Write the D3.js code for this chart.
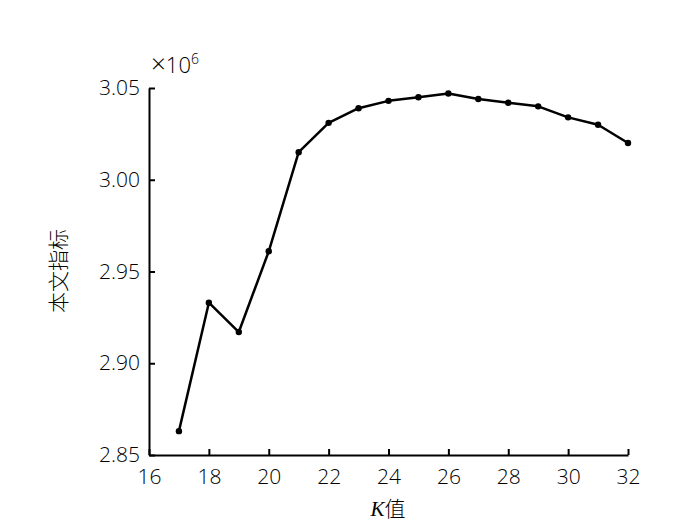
<!DOCTYPE html>
<html lang="zh">
  <head>
    <meta charset="utf-8" />
    <title>K值与本文指标</title>
    <script src="https://d3js.org/d3.v7.min.js"></script>
    <style>
      body { margin: 0; background: #fff; }
      .tick text { font-family: "Open Sans", "DejaVu Sans", sans-serif; font-size: 21px; font-weight: 300; fill: #000; }
    </style>
  </head>
  <body>
    <svg id="chart" width="700" height="525"></svg>
    <script>
      // K values and metric (x 10^6)
      const kValues = [17, 18, 19, 20, 21, 22, 23, 24, 25, 26, 27, 28, 29, 30, 31, 32];
      const metric = [2.863, 2.933, 2.917, 2.961, 3.015, 3.031, 3.039, 3.043, 3.045, 3.047,
                      3.044, 3.042, 3.040, 3.034, 3.030, 3.020];
      const xTicks = [16, 18, 20, 22, 24, 26, 28, 30, 32];
      const yTicks = [2.85, 2.90, 2.95, 3.00, 3.05];

      const svg = d3.select("#chart");
      const mLeft = 149, mRight = 628, mTop = 88, mBottom = 455;

      const x = d3.scaleLinear().domain([16, 32]).range([mLeft, mRight]);
      const y = d3.scaleLinear().domain([2.85, 3.05]).range([mBottom, mTop]);

      // x axis, ticks pointing inward
      const gx = svg.append("g")
        .attr("transform", `translate(0,${mBottom})`)
        .call(d3.axisBottom(x).tickValues(xTicks).tickSizeInner(-6).tickSizeOuter(0).tickPadding(11));
      gx.selectAll(".tick text").attr("dy", "0.85em");

      // y axis, ticks pointing inward
      const gy = svg.append("g")
        .attr("transform", `translate(${mLeft},0)`)
        .call(d3.axisLeft(y).tickValues(yTicks).tickFormat(d3.format(".2f"))
          .tickSizeInner(-6).tickSizeOuter(0).tickPadding(9));

      svg.selectAll(".domain, .tick line").attr("stroke", "#000").attr("stroke-width", 2);

      // multiplier
      const mult = svg.append("text")
        .attr("x", 151).attr("y", 73)
        .style("font-family", "'Open Sans', 'DejaVu Sans', sans-serif")
        .style("font-size", "22px").style("font-weight", 300).attr("fill", "#000");
      mult.append("tspan").style("font-size", "26px").text("×");
      mult.append("tspan").text("10");
      mult.append("tspan").attr("dy", -9).style("font-size", "14px").text("6");

      // axis titles (group opacity keeps the rotated text greyscale)
      svg.append("g")
        .attr("opacity", 0.99)
        .append("text")
        .attr("transform", "translate(66,271) rotate(-90)")
        .attr("text-anchor", "middle")
        .style("font-family", "'Noto Sans CJK SC', sans-serif")
        .style("font-size", "21px").style("font-weight", 300).attr("fill", "#000")
        .text("本文指标");

      const xt = svg.append("text")
        .attr("x", 388).attr("y", 516)
        .attr("text-anchor", "middle").attr("fill", "#000")
        .style("font-size", "21px");
      xt.append("tspan").style("font-family", "'Liberation Serif', serif").style("font-style", "italic").text("K");
      xt.append("tspan").style("font-family", "'Noto Sans CJK SC', sans-serif").style("font-weight", 300).text("值");

      // line
      const pts = kValues.map((k, i) => [k, metric[i]]);
      svg.append("path")
        .datum(pts)
        .attr("fill", "none")
        .attr("stroke", "#000")
        .attr("stroke-width", 2.5)
        .attr("stroke-linejoin", "round")
        .attr("d", d3.line().x(d => x(d[0])).y(d => y(d[1])));

      svg.selectAll("circle.pt")
        .data(pts)
        .enter()
        .append("circle")
        .attr("class", "pt")
        .attr("cx", d => x(d[0]))
        .attr("cy", d => y(d[1]))
        .attr("r", 3.2)
        .attr("fill", "#000");
    </script>
  </body>
</html>
